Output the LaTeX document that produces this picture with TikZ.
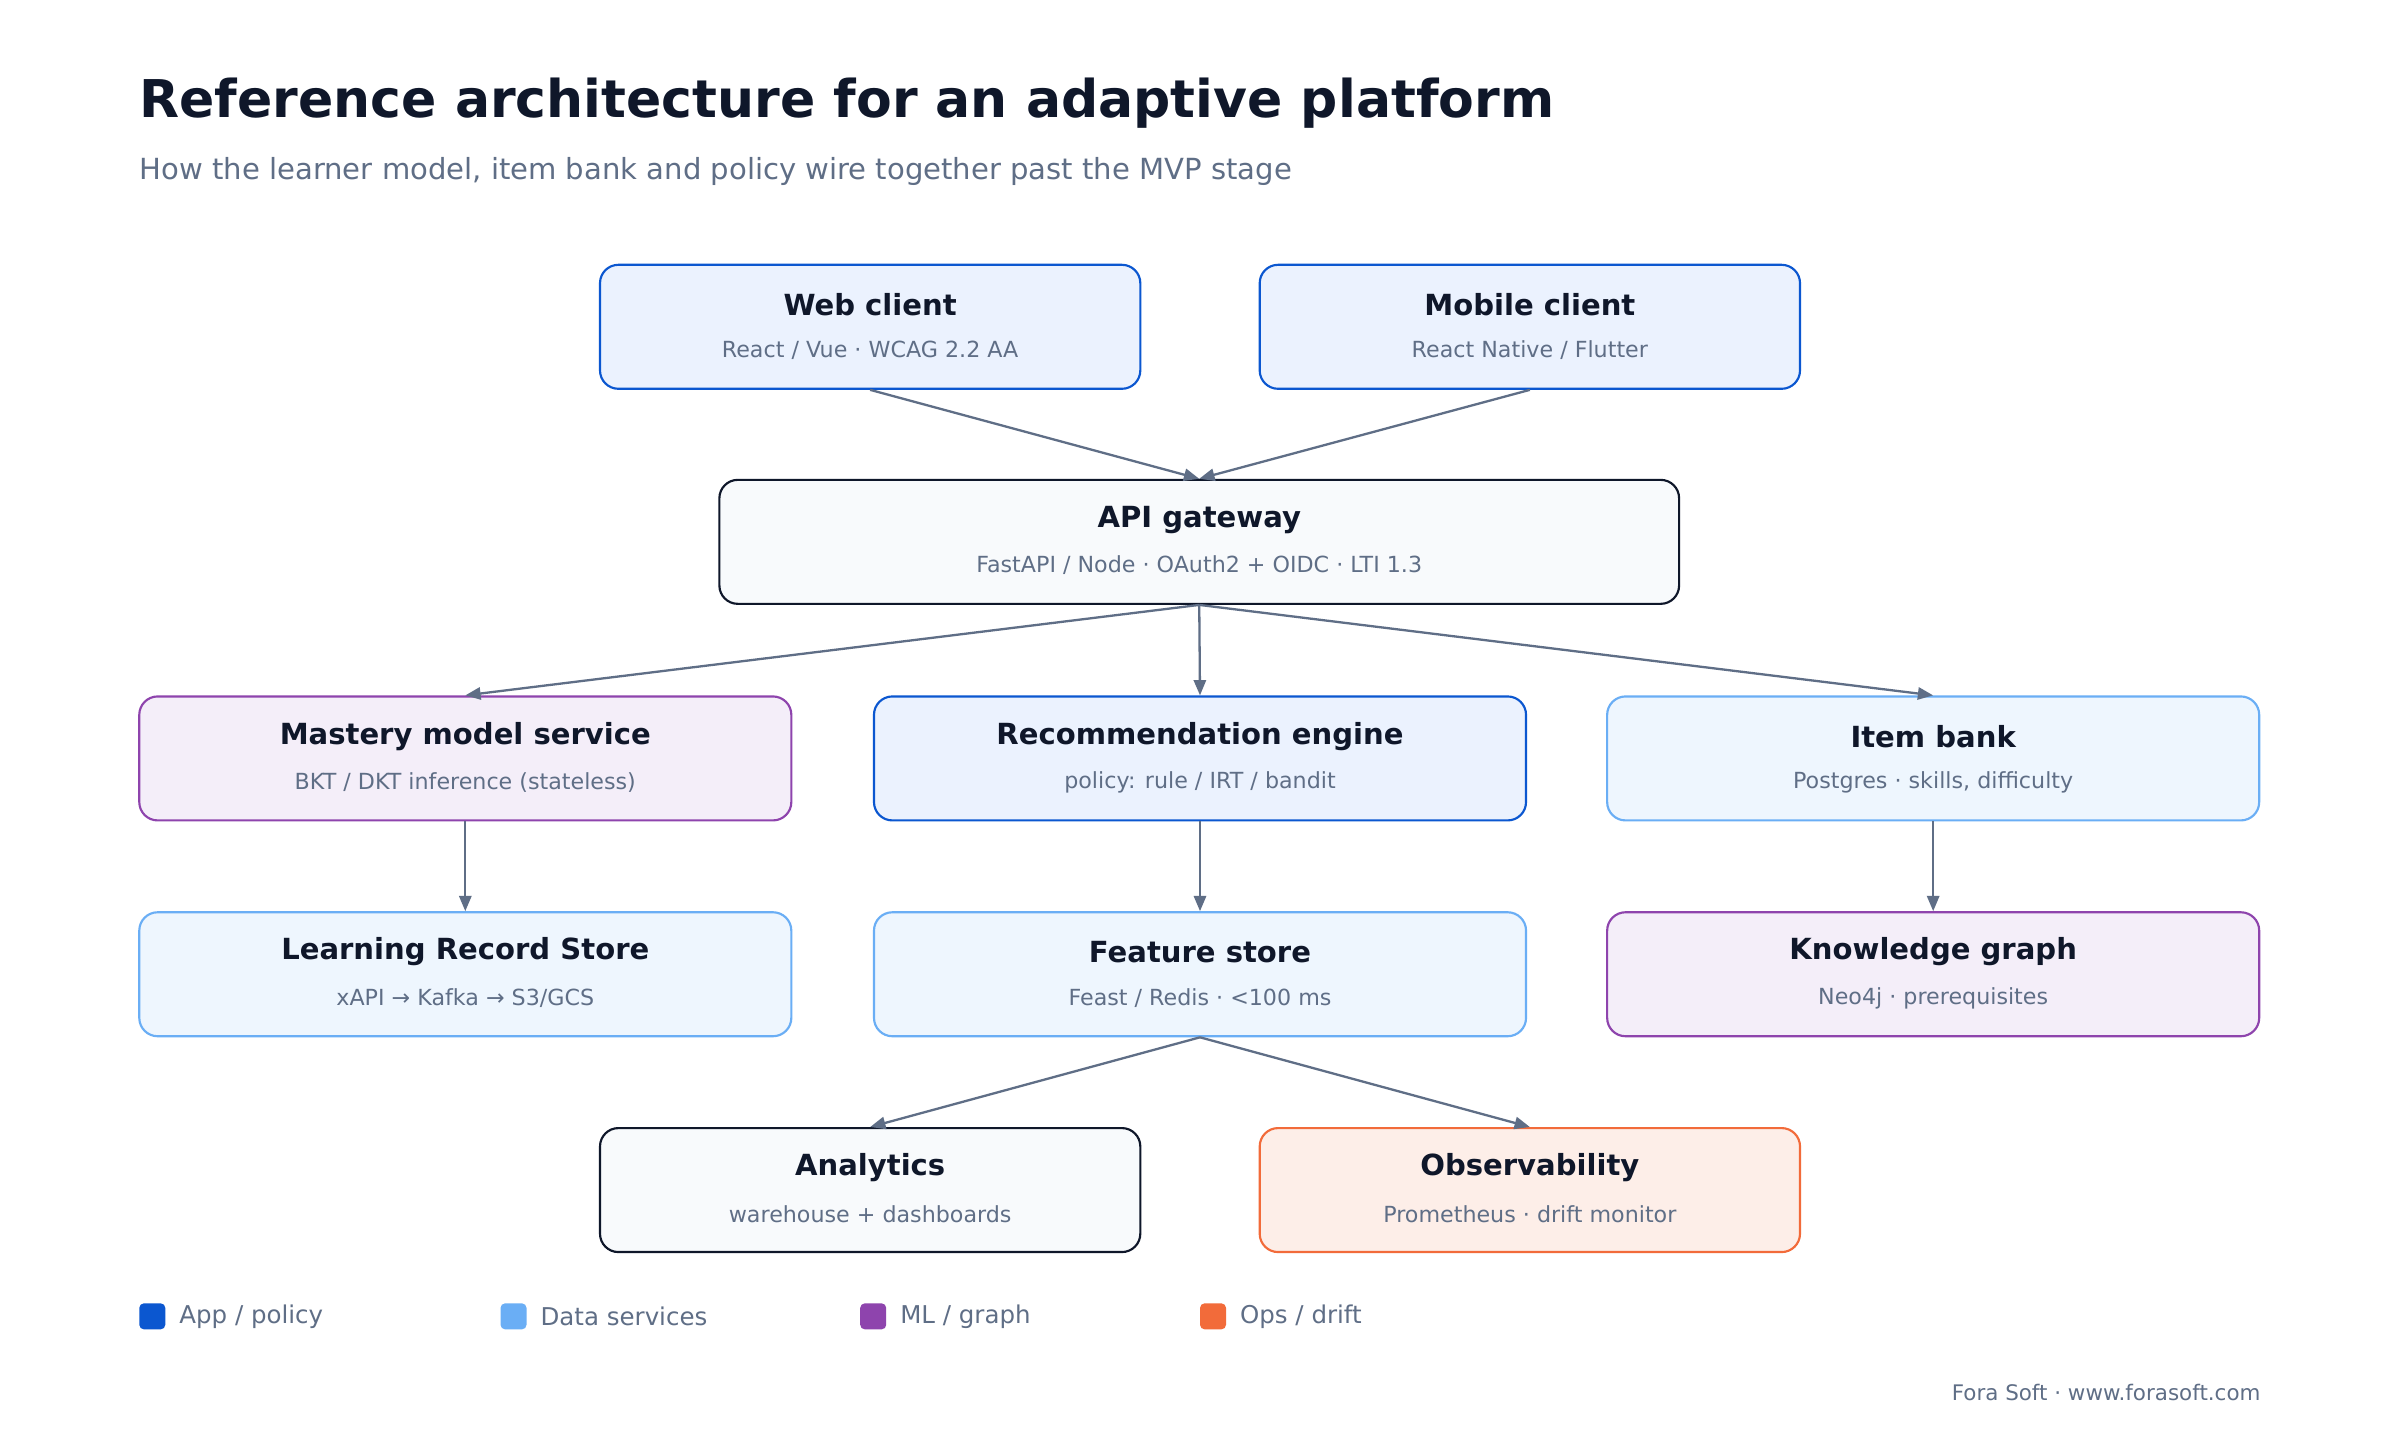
\documentclass[tikz,border=0pt]{standalone}
\usepackage{fontspec}
\setmainfont{DejaVu Sans}
\usetikzlibrary{arrows.meta}
\definecolor{ink}{HTML}{0F172A}
\definecolor{muted}{HTML}{5F6E86}
\definecolor{arr}{HTML}{5F6E86}
\definecolor{appB}{HTML}{0B57D0}\definecolor{appF}{HTML}{EBF2FE}
\definecolor{datB}{HTML}{6AAEF5}\definecolor{datF}{HTML}{EEF6FE}
\definecolor{mlB}{HTML}{8E44AD}\definecolor{mlF}{HTML}{F4EEF9}
\definecolor{opsB}{HTML}{F26B3A}\definecolor{opsF}{HTML}{FDEEE8}
\definecolor{gwB}{HTML}{0F172A}\definecolor{gwF}{HTML}{F8FAFC}
\tikzset{
 box/.style={draw, rounded corners=12pt, line width=1.4pt, minimum height=81pt, inner sep=0pt},
 app/.style={box, draw=appB, fill=appF},
 dat/.style={box, draw=datB, fill=datF},
 ml/.style={box, draw=mlB, fill=mlF},
 ops/.style={box, draw=opsB, fill=opsF},
 gw/.style={box, draw=gwB, fill=gwF},
 ttl/.style={font=\fontsize{19}{22}\selectfont\bfseries, text=ink, inner sep=0pt},
 sub/.style={font=\fontsize{14.5}{17}\selectfont, text=muted, inner sep=0pt},
 conn/.style={draw=arr, line width=1.5pt, -{Triangle[length=10pt,width=8pt]}},
 leg/.style={rounded corners=3pt, minimum size=17pt, inner sep=0pt},
 legt/.style={font=\fontsize{16}{19}\selectfont, text=muted, anchor=west, inner sep=0pt},
}
\newcommand{\mybox}[7]{%
 \node[#1, minimum width=#4pt] (#2) at (#3) {};
 \node[ttl] (#2t) at ([yshift=14.5pt]#2.center) {#5};
 \node[sub] (#2s) at ([yshift=-15.5pt]#2.center) {#6};}
\begin{document}
\begin{tikzpicture}[x=1pt,y=-1pt]
\useasboundingbox[fill=white] (0,0) rectangle (1568,940.8);
\node[anchor=base west, inner sep=0pt, font=\fontsize{34}{40}\selectfont\bfseries, text=ink] (title) at (91,77) {Reference architecture for an adaptive platform};
\node[anchor=base west, inner sep=0pt, font=\fontsize{19}{22}\selectfont, text=muted] (subtitle) at (91,117) {How the learner model, item bank and policy wire together past the MVP stage};
\mybox{app}{web}{568.5,213.5}{353}{Web client}{React / Vue · WCAG 2.2 AA}{}
\mybox{app}{mob}{999.5,213.5}{353}{Mobile client}{React Native / Flutter}{}
\mybox{gw}{api}{783.5,354}{627}{API gateway}{FastAPI / Node · OAuth2 + OIDC · LTI 1.3}{}
\mybox{ml}{mas}{304,495.5}{426}{Mastery model service}{BKT / DKT inference (stateless)}{}
\mybox{app}{rec}{784,495.5}{426}{Recommendation engine}{policy: rule / IRT / bandit}{}
\mybox{dat}{item}{1263,495.5}{426}{Item bank}{Postgres · skills, difficulty}{}
\mybox{dat}{lrs}{304,636.5}{426}{Learning Record Store}{xAPI → Kafka → S3/GCS}{}
\mybox{dat}{feat}{784,636.5}{426}{Feature store}{Feast / Redis · <100 ms}{}
\mybox{ml}{kg}{1263,636.5}{426}{Knowledge graph}{Neo4j · prerequisites}{}
\mybox{gw}{ana}{568.5,777.5}{353}{Analytics}{warehouse + dashboards}{}
\mybox{ops}{obs}{999.5,777.5}{353}{Observability}{Prometheus · drift monitor}{}
\draw[conn] (web.south) -- (api.north);
\draw[conn] (mob.south) -- (api.north);
\draw[conn] (api.south) -- (mas.north);
\draw[conn] (api.south) -- (rec.north);
\draw[conn] (api.south) -- (item.north);
\draw[conn] (mas.south) -- (lrs.north);
\draw[conn] (rec.south) -- (feat.north);
\draw[conn] (item.south) -- (kg.north);
\draw[conn] (feat.south) -- (ana.north);
\draw[conn] (feat.south) -- (obs.north);
\node[leg, fill=appB] (l1) at (99.5,860) {};
\node[legt] (l1t) at (117,860) {App / policy};
\node[leg, fill=datB] (l2) at (335.5,860) {};
\node[legt] (l2t) at (353,860) {Data services};
\node[leg, fill=mlB] (l3) at (570.5,860) {};
\node[legt] (l3t) at (588,860) {ML / graph};
\node[leg, fill=opsB] (l4) at (792.5,860) {};
\node[legt] (l4t) at (810,860) {Ops / drift};
\node[anchor=east, inner sep=0pt, font=\fontsize{14}{17}\selectfont, text=muted] (foot) at (1477,910) {Fora Soft · www.forasoft.com};
\end{tikzpicture}
\end{document}
